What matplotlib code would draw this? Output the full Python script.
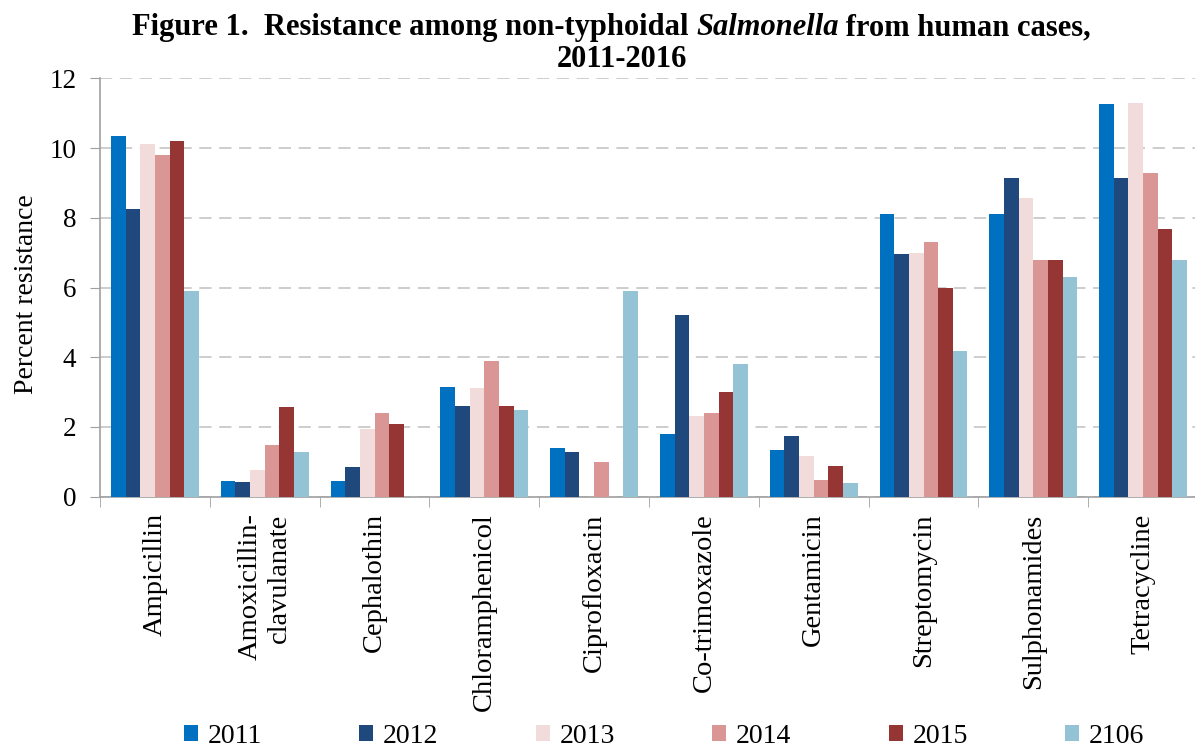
import matplotlib
matplotlib.use("Agg")
import matplotlib.pyplot as plt
import numpy as np

# Antimicrobial agents tested
drugs = ["Ampicillin", "Amoxicillin-\nclavulanate", "Cephalothin", "Chloramphenicol",
         "Ciprofloxacin", "Co-trimoxazole", "Gentamicin", "Streptomycin",
         "Sulphonamides", "Tetracycline"]

# Percent resistance per year
r2011 = [10.35, 0.44, 0.44, 3.15, 1.40, 1.80, 1.34, 8.10, 8.10, 11.26]
r2012 = [8.26, 0.42, 0.85, 2.60, 1.29, 5.21, 1.73, 6.95, 9.13, 9.13]
r2013 = [10.11, 0.77, 1.93, 3.11, 0.00, 2.32, 1.16, 7.00, 8.56, 11.28]
r2014 = [9.80, 1.48, 2.39, 3.90, 1.00, 2.40, 0.49, 7.30, 6.80, 9.29]
r2015 = [10.20, 2.58, 2.08, 2.60, 0.00, 3.00, 0.88, 6.00, 6.80, 7.69]
r2106 = [5.90, 1.28, 0.00, 2.49, 5.90, 3.80, 0.38, 4.19, 6.29, 6.80]

series_labels = ["2011", "2012", "2013", "2014", "2015", "2106"]
series_values = [r2011, r2012, r2013, r2014, r2015, r2106]
colors = ["#0070C0", "#1F497D", "#F2DCDB", "#DA9694", "#963634", "#93C3D5"]

title_parts = [("Figure 1.  Resistance among non-typhoidal ", "normal"),
               ("Salmonella", "italic"),
               (" from human cases,", "normal")]
title_line2 = "2011-2016"

plt.rcParams["font.family"] = ["Liberation Serif", "DejaVu Serif"]

W, H = 1195, 749
fig = plt.figure(figsize=(W / 100, H / 100), dpi=100)
ax = fig.add_axes([100 / W, (H - 496.7) / H, 1098 / W, 418.4 / H])

n = len(series_values)
group_w = 0.8
bw = group_w / n
x = np.arange(len(drugs))
for i, (lab, vals, c) in enumerate(zip(series_labels, series_values, colors)):
    offs = -group_w / 2 + bw * (i + 0.5)
    ax.bar(x + offs, vals, width=bw, color=c, label=lab, zorder=3,
           edgecolor="none")

ax.set_xlim(-0.5, len(drugs) - 0.5)
ax.set_ylim(0, 12)
ax.set_yticks(np.arange(0, 13, 2))
ax.tick_params(axis="y", labelsize=19.5, length=7, color="#a0a0a0", pad=10,
               direction="out")
ax.yaxis.grid(True, linestyle=(0, (8, 5)), color="#c0c0c0", linewidth=1.1,
              zorder=0)

# category labels centred, tick marks at the category boundaries
ax.set_xticks(x)
ax.set_xticklabels(drugs, rotation=90, fontsize=20.5, va="top", ha="center",
                   multialignment="right")
ax.tick_params(axis="x", which="major", length=0, pad=12)
ax.set_xticks(np.arange(-0.5, len(drugs), 1.0), minor=True)
ax.tick_params(axis="x", which="minor", length=7, color="#a0a0a0",
               direction="out")

for side in ["top", "right"]:
    ax.spines[side].set_visible(False)
for side in ["left", "bottom"]:
    ax.spines[side].set_color("#a0a0a0")
    ax.spines[side].set_linewidth(1.2)

ax.set_ylabel("Percent resistance", fontsize=20)
ax.yaxis.set_label_coords(-0.056, 0.483)

# Title: first line built from pieces so the genus name can be italic
renderer = fig.canvas.get_renderer()
pieces = []
for txt, style in title_parts:
    t = fig.text(0, 1 - 35 / H, txt, ha="left", va="baseline", fontsize=22,
                 fontweight="bold", fontstyle=style)
    pieces.append(t)
widths = [p.get_window_extent(renderer).width for p in pieces]
start = 611.5 - sum(widths) / 2
for p, w in zip(pieces, widths):
    p.set_x(start / W)
    start += w
fig.text(622 / W, 1 - 67 / H, title_line2, ha="center", va="baseline",
         fontsize=22, fontweight="bold")

leg = fig.legend(loc="lower left", bbox_to_anchor=(170 / W, -14 / H),
                 ncol=6, frameon=False, fontsize=20,
                 handlelength=0.5, handleheight=0.5, handletextpad=0.35,
                 columnspacing=3.51, borderaxespad=0.1)

fig.savefig("out.png", dpi=100)
